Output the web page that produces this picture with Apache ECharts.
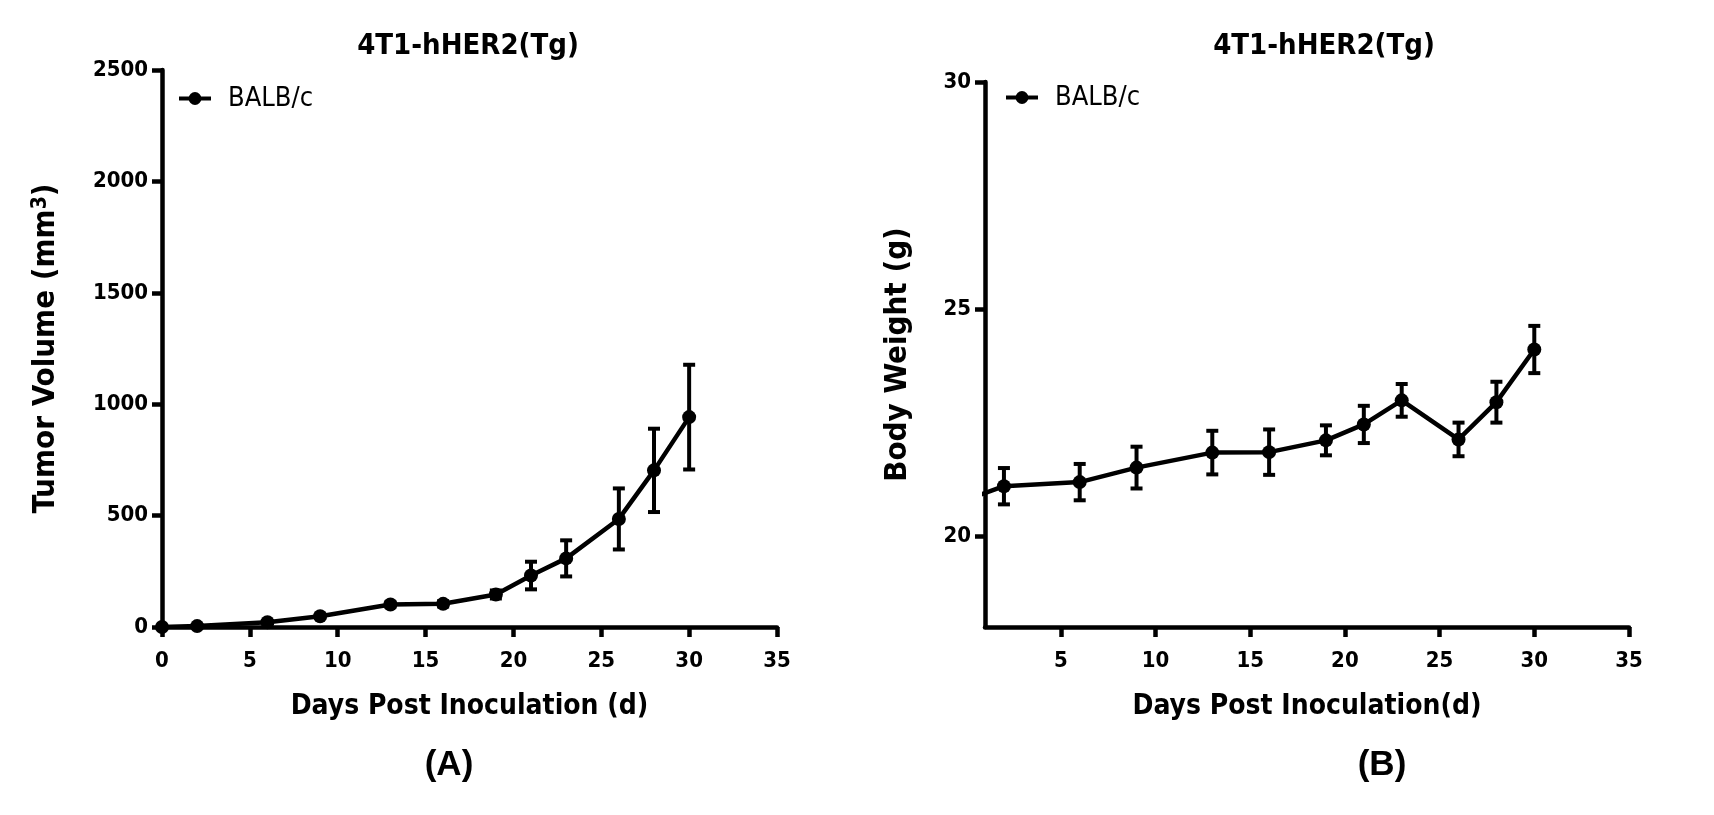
<!DOCTYPE html>
<html>
<head>
<meta charset="utf-8">
<script src="https://cdn.jsdelivr.net/npm/echarts@6/dist/echarts.min.js"></script>
<style>
html,body{margin:0;padding:0;background:#fff;}
#c{width:1714px;height:815px;}
</style>
</head>
<body>
<div id="c"></div>
<script>
// ---- Data ----
const chartTitle = '4T1-hHER2(Tg)';
const seriesName = 'BALB/c';
// Panel A: tumor volume
const daysA = [0, 2, 6, 9, 13, 16, 19, 21, 23, 26, 28, 30];
const volumeA = [0, 4, 21, 48, 101, 104, 146, 231, 308, 485, 703, 942];
const volumeErrA = [0, 2, 5, 8, 10, 12, 18, 62, 81, 137, 187, 235];
const xTicksA = [0, 5, 10, 15, 20, 25, 30, 35];
const yTicksA = [0, 500, 1000, 1500, 2000, 2500];
// Panel B: body weight
const daysB = [0, 2, 6, 9, 13, 16, 19, 21, 23, 26, 28, 30];
const weightB = [20.8, 21.10, 21.19, 21.51, 21.84, 21.85, 22.11, 22.46, 22.99, 22.13, 22.95, 24.11];
const weightErrB = [0.4, 0.4, 0.4, 0.46, 0.48, 0.5, 0.33, 0.41, 0.36, 0.37, 0.45, 0.52];
const xTicksB = [5, 10, 15, 20, 25, 30, 35];
const yTicksB = [20, 25, 30];

// ---- Styles ----
const NARROW = "'Liberation Sans Narrow','Arial Narrow','DejaVu Sans Condensed',sans-serif";
const BLACK = '#000';
const AXIS_W = 4.5;

function errRender(params, api) {
  const x = api.value(0), y = api.value(1), e = api.value(2);
  const hi = api.coord([x, y + e]);
  const lo = api.coord([x, y - e]);
  const cap = 6;
  const st = {stroke: BLACK, lineWidth: 4};
  return {
    type: 'group',
    children: [
      {type: 'line', shape: {x1: hi[0], y1: hi[1], x2: lo[0], y2: lo[1]}, style: st},
      {type: 'line', shape: {x1: hi[0] - cap, y1: hi[1], x2: hi[0] + cap, y2: hi[1]}, style: st},
      {type: 'line', shape: {x1: lo[0] - cap, y1: lo[1], x2: lo[0] + cap, y2: lo[1]}, style: st}
    ]
  };
}

function xAxisCfg(grid, min, max, ticks, name) {
  return {
    type: 'value', gridIndex: grid, min: min, max: max,
    name: name, nameLocation: 'middle', nameGap: 66,
    nameTextStyle: {fontFamily: NARROW, fontWeight: 'bold', fontSize: 28, color: BLACK, verticalAlign: 'top'},
    axisLine: {show: true, onZero: false, lineStyle: {color: BLACK, width: AXIS_W}},
    axisTick: {show: true, inside: false, length: 10, customValues: ticks, lineStyle: {color: BLACK, width: AXIS_W}},
    axisLabel: {customValues: ticks, margin: 23, formatter: v => String(v),
      fontFamily: NARROW, fontWeight: 'bold', fontSize: 22, color: BLACK},
    splitLine: {show: false}
  };
}
function yAxisCfg(grid, min, max, ticks, name, gap) {
  return {
    type: 'value', gridIndex: grid, min: min, max: max,
    name: name, nameLocation: 'middle', nameGap: gap, nameRotate: 90,
    nameTextStyle: {fontFamily: NARROW, fontWeight: 'bold', fontSize: 31, color: BLACK,
      rich: {sup: {fontFamily: NARROW, fontWeight: 'bold', fontSize: 21, verticalAlign: 'top', color: BLACK}}},
    axisLine: {show: true, onZero: false, lineStyle: {color: BLACK, width: AXIS_W}},
    axisTick: {show: true, inside: false, length: 10, customValues: ticks, lineStyle: {color: BLACK, width: AXIS_W}},
    axisLabel: {customValues: ticks, margin: 14, formatter: v => String(v),
      fontFamily: NARROW, fontWeight: 'bold', fontSize: 22, color: BLACK},
    splitLine: {show: false}
  };
}

const lineStyleCommon = {
  type: 'line', symbol: 'circle', symbolSize: 14,
  lineStyle: {color: BLACK, width: 4.5},
  itemStyle: {color: BLACK},
  clip: true, z: 3
};

const legendCommon = {
  data: [seriesName], selectedMode: false, orient: 'horizontal',
  itemWidth: 32, itemHeight: 16,
  lineStyle: {width: 4, color: BLACK},
  itemStyle: {color: BLACK},
  textStyle: {fontFamily: NARROW, fontSize: 27, color: BLACK, padding: [0, 0, 0, 12]}
};

const option = {
  animation: false,
  backgroundColor: '#fff',
  grid: [
    {left: 162, top: 70, width: 615, height: 557, containLabel: false},
    {left: 985, top: 82, width: 644, height: 545, containLabel: false}
  ],
  xAxis: [
    xAxisCfg(0, 0, 35, xTicksA, 'Days Post Inoculation (d)'),
    xAxisCfg(1, 1, 35, xTicksB, 'Days Post Inoculation(d)')
  ],
  yAxis: [
    yAxisCfg(0, 0, 2500, yTicksA, 'Tumor Volume (mm{sup|3})', 101),
    yAxisCfg(1, 18, 30, yTicksB, 'Body Weight (g)', 72)
  ],
  legend: [
    Object.assign({left: 172, top: 80}, legendCommon),
    Object.assign({left: 999, top: 79}, legendCommon)
  ],
  graphic: [
    {type: 'text', x: 468, y: 46, style: {text: chartTitle, font: 'bold 29px ' + NARROW, fill: BLACK, textAlign: 'center', textVerticalAlign: 'middle'}},
    {type: 'text', x: 1324, y: 46, style: {text: chartTitle, font: 'bold 29px ' + NARROW, fill: BLACK, textAlign: 'center', textVerticalAlign: 'middle'}},
    {type: 'text', x: 449, y: 765, style: {text: '(A)', font: "bold 35px 'Liberation Sans',Arial,sans-serif", fill: BLACK, textAlign: 'center', textVerticalAlign: 'middle'}},
    {type: 'text', x: 1382, y: 765, style: {text: '(B)', font: "bold 35px 'Liberation Sans',Arial,sans-serif", fill: BLACK, textAlign: 'center', textVerticalAlign: 'middle'}}
  ],
  series: [
    Object.assign({name: seriesName, xAxisIndex: 0, yAxisIndex: 0,
      data: daysA.map((d, i) => [d, volumeA[i]])}, lineStyleCommon),
    {type: 'custom', xAxisIndex: 0, yAxisIndex: 0, renderItem: errRender, clip: true, z: 2,
      encode: {x: 0, y: 1}, data: daysA.map((d, i) => [d, volumeA[i], volumeErrA[i]])},
    Object.assign({name: seriesName, xAxisIndex: 1, yAxisIndex: 1,
      data: daysB.map((d, i) => [d, weightB[i]])}, lineStyleCommon),
    {type: 'custom', xAxisIndex: 1, yAxisIndex: 1, renderItem: errRender, clip: true, z: 2,
      encode: {x: 0, y: 1}, data: daysB.map((d, i) => [d, weightB[i], weightErrB[i]])}
  ]
};

const chart = echarts.init(document.getElementById('c'), null, {renderer: 'canvas'});
chart.setOption(option);
</script>
</body>
</html>
